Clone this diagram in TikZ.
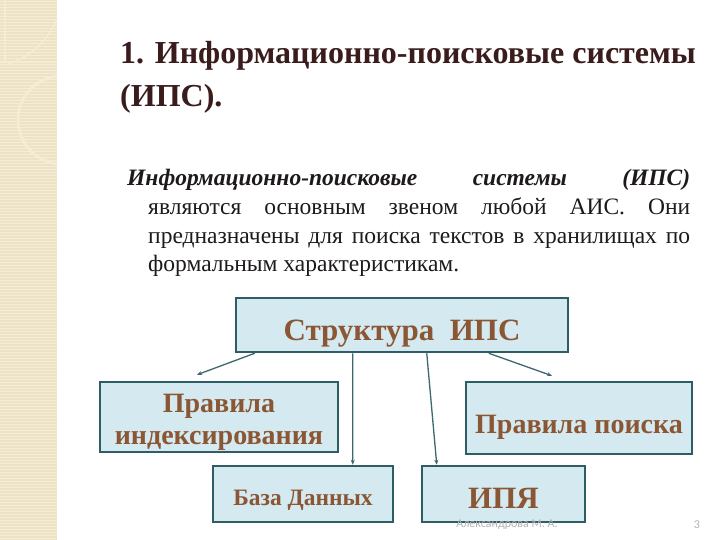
\documentclass[tikz,border=0pt]{standalone}
\usepackage{fontspec}
\setmainfont{Liberation Serif}
\newfontfamily\footfont{Carlito}
\usetikzlibrary{arrows.meta,calc}
\definecolor{stripbg}{HTML}{EDE2C3}
\definecolor{stripln}{HTML}{F4EDD8}
\definecolor{decorln}{HTML}{F4ECD5}
\definecolor{titlecol}{HTML}{3A1C1C}
\definecolor{bodycol}{HTML}{1E1A1A}
\definecolor{boxfill}{HTML}{D4EAF0}
\definecolor{boxline}{HTML}{2E5D66}
\definecolor{lblcol}{HTML}{8A5634}
\definecolor{conncol}{HTML}{3E6870}
\definecolor{footcol}{HTML}{B4B4B4}
\tikzset{
  titletext/.style={font=\fontsize{32bp}{36bp}\selectfont\bfseries, text=titlecol, inner sep=0pt, anchor=base west},
  bodytext/.style={font=\fontsize{23.5bp}{28bp}\selectfont, text=bodycol, inner sep=0pt, anchor=base west},
  structbox/.style={draw=boxline, line width=2.5bp, fill=boxfill, inner sep=0pt, text=lblcol, font=\bfseries, align=center},
  conn/.style={draw=conncol, line width=1.3bp, -{Stealth[length=5bp,width=4bp]}},
  foottext/.style={font=\footfont\fontsize{12bp}{14bp}\selectfont, text=footcol, inner sep=0pt}
}
\begin{document}
\begin{tikzpicture}[x=1bp,y=-1bp]
\useasboundingbox (0,0) rectangle (720,540);
\fill[white] (0,0) rectangle (720,540);
% left decorative strip
\fill[stripbg] (0,0) rectangle (57,540);
\foreach \i in {1,4,...,540} \draw[stripln, line width=0.9bp] (0,\i) -- (57,\i);
\begin{scope}
\clip (0,0) rectangle (57,540);
\draw[decorln, line width=1.2bp] (0,62) -- (57,62);
\draw[decorln, line width=1.2bp] (5,0) -- (5,62);
\draw[decorln, line width=1.5bp] (64,0) .. controls (55,35) and (35,55) .. (8,64);
\draw[decorln, line width=3bp] (84,158) arc[start angle=60, end angle=300, radius=44];
\end{scope}
% title
\node[titletext] (t1) at (120,64) {1. Информационно-поисковые системы};
\node[titletext] (t2) at (120,107) {(ИПС).};
% body
\node[bodytext, font=\fontsize{23.5bp}{28bp}\selectfont\bfseries\itshape] (b1) at (127,186)
  {\hbox to 563bp{Информационно-поисковые\hfill системы\hfill (ИПС)}};
\node[bodytext] (b2) at (148,215) {\hbox to 542bp{являются\hfill основным\hfill звеном\hfill любой\hfill АИС.\hfill Они}};
\node[bodytext] (b3) at (148,244) {\hbox to 542bp{предназначены для поиска текстов в хранилищах по}};
\node[bodytext] (b4) at (148,272) {формальным характеристикам.};
% boxes
\node[structbox, minimum width=332bp, minimum height=54bp, font=\fontsize{31bp}{34bp}\selectfont\bfseries] (s) at (402,325) {\rule{0pt}{38bp}Структура\ \ ИПС};
\node[structbox, minimum width=238bp, minimum height=70bp, font=\fontsize{28bp}{32bp}\selectfont\bfseries] (idx) at (219,417) {\rule{0pt}{28bp}Правила\\индексирования};
\node[structbox, minimum width=226bp, minimum height=72bp, font=\fontsize{28bp}{32bp}\selectfont\bfseries] (poisk) at (579,418) {\rule{0pt}{36bp}Правила поиска};
\node[structbox, minimum width=180bp, minimum height=56bp, font=\fontsize{23.5bp}{26bp}\selectfont\bfseries] (bd) at (303,494) {\rule{0pt}{29bp}База Данных};
\node[structbox, minimum width=163bp, minimum height=56bp, font=\fontsize{31bp}{34bp}\selectfont\bfseries] (ipya) at (503.5,494) {\rule{0pt}{29bp}ИПЯ};
% connectors
\coordinate (e1) at ($(idx.north)+(-22,-6)$);
\coordinate (e2) at ($(poisk.north)+(-27,-5)$);
\draw[conn] ($(s.south west)+(20,0)$) -- (e1);
\draw[conn] ($(s.south west)+(254,0)$) -- (e2);
\draw[conn] ($(s.south west)+(118,0)$) -- ($(bd.north west)+(141,0)$);
\draw[conn] ($(s.south west)+(192,0)$) -- ($(ipya.north west)+(16,0)$);
% footer
\node[foottext] (f1) at (507,525) {Александрова М. А.};
\node[foottext] (f2) at (697,525) {3};
\end{tikzpicture}
\end{document}
